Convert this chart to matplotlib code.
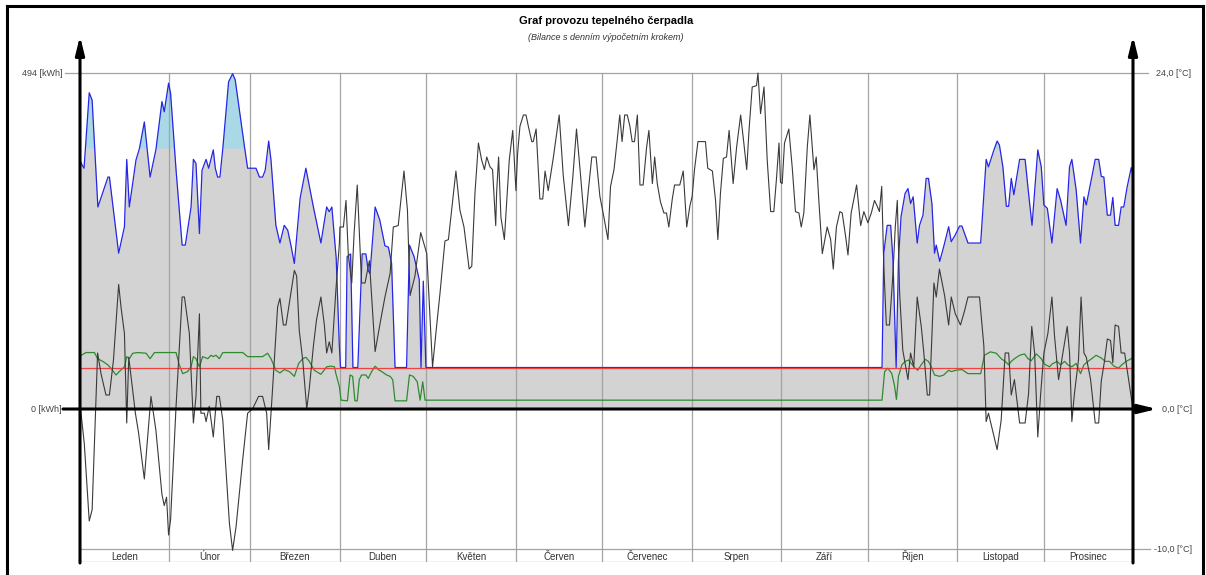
import numpy as np
import matplotlib.pyplot as plt
from matplotlib.lines import Line2D

plt.rcParams['font.family'] = ['Liberation Sans', 'DejaVu Sans']

# --- data (day of year, value) ---
months = ['Leden', 'Únor', 'Březen', 'Duben', 'Květen', 'Červen',
          'Červenec', 'Srpen', 'Září', 'Říjen', 'Listopad', 'Prosinec']
month_start = [0, 31, 59, 90, 120, 151, 181, 212, 243, 273, 304, 334, 365]

e_top = 494        # kWh at the top gridline
t_top = 24.0       # degC at the top gridline
t_low = -10.0
hp_cap_kwh = 383   # heat pump limit, above it = light blue
dhw_kwh = 61       # red line

# total heat demand (blue)
heat_day = [0, 0.7, 1.4, 3.2, 4.2, 6.2, 9.7, 10.2, 13.4, 15.4, 16.2, 17.1, 19.4, 20.6,
            22.3, 24.3, 26.3, 28.4, 29.2, 30.7, 31.4, 33.3, 35.4, 36.5, 38.5, 39.3,
            40.2, 41.4, 42.3, 43.7, 44.6, 46.2, 46.9, 47.7, 48.5, 49.5, 51.5, 52.9,
            53.8, 57.0, 58.1, 61.0, 62.2, 63.3, 64.2, 65.4, 66.2, 67.9, 69.3, 70.8,
            72.0, 73.1, 74.3, 76.3, 78.3, 80.9, 83.5, 85.5, 86.4, 87.3, 88.8, 89.9,
            90.3, 92.1, 92.6, 93.8, 94.6, 96.3, 97.8, 99.1, 99.9, 100.5, 102.3, 103.9,
            105.7, 106.9, 108.0, 109.2, 113.2, 114.2, 115.8, 117.6, 118.2, 119.0, 119.9,
            278.0, 278.6, 279.8, 281.0, 281.8, 282.9, 283.7, 284.6, 286.0, 287.0,
            287.9, 288.8, 290.2, 291.0, 292.2, 293.3, 294.1, 295.3, 296.2, 296.8,
            298.0, 299.4, 301.1, 302.0, 303.4, 304.9, 305.7, 307.8, 312.2, 314.1,
            314.9, 316.8, 317.9, 318.7, 319.9, 321.1, 321.9, 322.8, 323.7, 325.7,
            327.6, 328.8, 330.0, 332.0, 333.2, 334.1, 335.3, 336.9, 338.7, 339.9,
            341.8, 343.0, 343.8, 345.3, 346.8, 348.0, 348.8, 350.3, 351.9, 353.1,
            354.0, 354.9, 356.1, 357.2, 358.0, 358.8, 360.0, 360.9, 361.8, 363.0,
            364.4, 365.0]
heat_kwh = [366, 359, 354, 465, 454, 297, 341, 341, 229, 268, 367, 297, 366, 383,
            422, 341, 381, 452, 437, 479, 464, 351, 241, 241, 297, 367,
            361, 258, 351, 367, 354, 381, 354, 341, 341, 383, 481, 493,
            484, 386, 354, 354, 341, 341, 351, 394, 366, 270, 244, 270,
            263, 241, 214, 310, 354, 297, 244, 297, 290, 297, 222, 92,
            61, 61, 224, 228, 61, 61, 228, 228, 204, 199, 297, 278,
            240, 238, 214, 61, 61, 241, 224, 190, 61, 188, 61,
            61, 229, 270, 270, 219, 61, 219, 283, 317, 324,
            302, 312, 244, 270, 285, 339, 339, 302, 229, 241,
            217, 239, 268, 246, 256, 269, 269, 244, 244, 367,
            356, 381, 394, 388, 356, 298, 298, 339, 315, 367,
            367, 317, 270, 381, 356, 300, 295, 244, 324, 307,
            270, 356, 367, 322, 244, 312, 300, 332, 367, 367,
            342, 341, 285, 285, 311, 270, 270, 297, 297, 327,
            355, 345]

# electricity (green)
el_day = [0, 2.1, 5.0, 6.1, 7.9, 9.6, 10.7, 12.5, 13.6, 15.4, 16.2, 17.1, 18.3, 20.0,
          22.9, 24.3, 25.8, 33.3, 34.4, 35.6, 37.3, 38.5, 39.3, 40.2, 41.4, 42.5,
          44.3, 45.4, 46.2, 47.1, 48.3, 49.5, 56.4, 58.1, 63.3, 65.0, 66.2, 67.9,
          69.3, 70.8, 72.6, 74.3, 75.8, 77.2, 78.3, 79.5, 81.2, 83.5, 85.5, 87.0,
          88.2, 88.7, 89.9, 90.5, 92.7, 93.6, 94.5, 95.3, 96.1, 96.8, 97.6, 99.1,
          99.9, 101.1, 102.3, 103.4, 104.6, 106.3, 107.5, 108.4, 109.2, 113.2, 114.2,
          115.5, 116.9, 117.9, 118.8, 119.6, 120.4,
          278.0, 278.9, 280.0, 281.4, 282.3, 283.0, 283.7, 284.9, 286.0, 287.2,
          288.1, 289.5, 290.4, 291.6, 293.0, 294.1, 295.3, 296.2, 298.0, 299.4,
          301.1, 302.0, 303.7, 305.7, 307.8, 312.2, 313.5, 315.6, 317.6, 319.3,
          320.7, 321.9, 322.8, 323.9, 325.7, 327.4, 328.6, 329.7, 331.5, 333.2,
          334.3, 336.1, 336.9, 338.7, 339.9, 341.3, 342.4, 343.8, 345.3, 346.8,
          348.0, 349.4, 350.7, 352.2, 354.0, 355.4, 356.9, 358.4, 360.0, 361.1,
          362.6, 364.4, 365.0]
el_kwh = [78, 83, 83, 74, 70, 65, 60, 50, 55, 62, 77, 74, 82, 83,
          82, 74, 83, 83, 65, 52, 55, 62, 77, 74, 62, 77,
          74, 79, 77, 79, 74, 83, 83, 77, 77, 82, 74, 57,
          53, 58, 55, 48, 67, 74, 76, 70, 57, 51, 62, 63,
          62, 52, 33, 13, 12, 50, 48, 12, 12, 43, 50, 50,
          45, 55, 63, 58, 55, 50, 48, 43, 12, 12, 50,
          48, 40, 13, 40, 13, 13,
          13, 55, 60, 52, 35, 14, 48, 65, 70, 72,
          67, 60, 57, 65, 73, 70, 60, 50, 48, 50,
          57, 55, 57, 58, 52, 52, 79, 84, 82, 74,
          70, 65, 70, 74, 79, 81, 74, 71, 81, 74,
          66, 62, 66, 70, 65, 70, 65, 62, 67, 52,
          65, 70, 74, 79, 75, 70, 70, 63, 60, 65,
          70, 74, 77]

# outdoor temperature (black)
temp_day = [0.0, 0.3, 1.5, 3.2, 4.2, 5.0, 6.1, 7.3, 9.0, 10.2, 11.6, 13.4, 14.2, 15.4,
            16.2, 16.9, 17.7, 19.2, 20.3, 22.3, 23.1, 24.6, 26.3, 28.4, 29.2, 30.0,
            30.7, 31.4, 33.3, 35.4, 36.2, 37.9, 39.3, 40.2, 41.4, 41.9, 43.1, 43.7,
            44.8, 46.2, 47.4, 48.3, 49.5, 51.8, 52.9, 54.1, 56.4, 58.1, 59.8, 61.9,
            63.3, 64.7, 65.4, 66.8, 68.5, 69.3, 70.5, 71.4, 73.1, 74.3, 75.1, 76.0,
            77.2, 78.6, 79.5, 80.9, 82.0, 83.5, 84.7, 85.5, 86.4, 87.3, 88.7, 89.9,
            90.1, 91.3, 92.2, 93.0, 94.2, 95.0, 96.1, 97.6, 98.8, 100.3, 102.3, 104.0,
            105.7, 107.5, 108.6, 110.3, 112.3, 113.5, 114.4, 116.1, 118.1, 120.2,
            122.2, 123.6, 124.8, 126.5, 127.7, 128.8, 130.3, 131.7, 133.1, 134.9,
            135.8, 136.9, 138.1, 139.2, 140.2, 141.0, 142.1, 143.0, 144.1, 144.4,
            145.1, 145.9, 147.1, 148.8, 150.0, 151.1, 151.7, 152.5, 153.7, 154.6,
            155.4, 156.6, 157.1, 158.1, 159.4, 160.4, 161.2, 162.3, 164.1, 166.1,
            167.5, 169.3, 170.8, 172.1, 173.5, 175.0, 176.2, 177.4, 178.9, 180.2,
            181.6, 183.0, 183.9, 185.1, 186.2, 187.1, 187.9, 188.8, 189.7, 190.6,
            191.4, 192.2, 193.2, 194.1, 195.2, 196.4, 197.2, 198.4, 199.2, 200.1,
            201.2, 202.4, 203.3, 204.1, 205.3, 206.1, 207.9, 209.1, 210.3, 211.4,
            212.2, 213.0, 214.2, 216.8, 217.6, 219.2, 220.3, 221.1, 222.0, 223.0,
            224.1, 225.0, 225.7, 226.4, 227.6, 229.0, 230.1, 231.1, 231.9, 233.0,
            234.5, 235.0, 235.9, 237.1, 237.6, 238.2, 239.4, 240.5, 241.4, 242.3,
            242.8, 243.4, 244.2, 245.7, 246.9, 248.0, 249.2, 250.0, 250.9, 252.1,
            253.0, 254.4, 255.2, 256.1, 257.3, 259.0, 260.2, 261.1, 262.2, 263.4,
            264.2, 265.4, 266.2, 267.3, 269.2, 270.6, 271.7, 273.1, 274.3, 275.4,
            276.3, 277.1, 277.9, 278.6, 279.5, 280.6, 281.8, 282.6, 283.3, 284.1,
            285.2, 287.0, 287.9, 289.0, 290.2, 291.6, 292.5, 293.7, 294.5, 296.0,
            296.8, 297.9, 299.7, 301.1, 302.0, 303.4, 305.2, 306.6, 307.8, 311.8,
            313.3, 314.1, 314.9, 317.9, 319.3, 320.7, 321.9, 322.8, 323.9, 325.7,
            327.6, 328.8, 329.9, 330.9, 332.0, 333.0, 334.1, 335.5, 336.9, 337.8,
            339.2, 340.7, 342.2, 343.0, 343.8, 344.7, 346.1, 347.0, 348.0, 348.8,
            350.3, 351.9, 353.1, 354.0, 355.1, 356.1, 357.2, 358.0, 358.8, 360.0,
            360.9, 362.1, 363.2, 365.0]
temp_c = [0.0, -0.2, -2.5, -8.0, -7.2, -2.5, 4.0, 2.5, 1.0, 1.0, 3.5, 8.9, 7.3, 5.4,
          -1.0, 3.7, 2.3, -0.3, -1.7, -5.0, -2.9, 0.9, -1.5, -6.1, -6.9, -6.3,
          -9.0, -7.9, 0.2, 8.0, 8.0, 5.4, -1.0, 0.9, 6.8, -0.3, -0.3, -0.9,
          0.2, -2.0, 0.9, 0.9, -0.8, -8.2, -10.1, -8.4, -3.6, -0.3, 0.0, 0.9,
          0.9, -0.3, -2.9, 1.6, 7.3, 7.9, 6.0, 6.0, 8.3, 9.9, 9.5, 5.6,
          3.5, 0.0, 1.5, 4.5, 6.4, 8.0, 6.0, 4.0, 4.8, 4.0, 8.5, 11.8,
          13.0, 13.0, 14.9, 11.0, 9.0, 12.5, 16.0, 9.0, 9.0, 10.6, 4.1, 6.1,
          8.0, 9.7, 13.0, 13.1, 17.0, 14.2, 8.1, 9.5, 12.6, 11.1,
          3.0, 5.9, 8.3, 12.0, 12.1, 14.2, 17.0, 14.2, 13.0, 10.0,
          10.2, 15.4, 19.0, 17.8, 17.1, 18.0, 17.3, 17.1, 13.1, 15.4,
          18.0, 13.7, 12.1, 17.8, 19.9, 15.6, 18.3, 20.2, 21.0, 21.0,
          20.2, 19.1, 19.1, 20.0, 15.0, 15.0, 17.0, 15.6, 18.0, 21.0,
          16.7, 13.1, 16.5, 20.0, 16.7, 13.0, 15.6, 18.0, 18.0, 15.2,
          13.7, 12.1, 15.9, 17.1, 19.2, 21.0, 19.1, 21.0, 21.0, 20.2,
          19.1, 19.1, 21.0, 16.0, 16.0, 18.7, 19.9, 16.1, 18.0, 16.1,
          14.8, 14.0, 14.0, 13.0, 15.0, 16.0, 16.0, 17.0, 13.0, 14.5,
          15.2, 17.1, 19.1, 19.1, 17.2, 17.0, 14.9, 12.1, 15.4, 17.9,
          18.0, 19.9, 18.0, 16.1, 18.7, 21.0, 19.0, 17.1, 19.9, 23.0,
          23.1, 24.0, 21.1, 23.0, 20.6, 17.8, 14.1, 14.1, 16.4, 19.0,
          16.2, 16.1, 19.0, 20.0, 17.2, 14.1, 14.0, 13.0, 14.0, 18.7,
          21.0, 17.1, 18.0, 14.9, 11.1, 13.0, 12.1, 10.0, 13.0, 14.1,
          14.0, 12.3, 11.0, 14.0, 16.0, 13.1, 14.1, 13.3, 14.0, 14.9,
          14.5, 14.1, 15.9, 10.3, 6.0, 6.0, 9.7, 13.0, 14.9, 8.3,
          4.2, 2.1, 4.0, 3.0, 8.0, 5.9, 4.0, 1.0, 1.0, 9.0,
          8.0, 10.0, 8.1, 6.0, 8.0, 6.8, 6.0, 7.0, 8.0, 8.0,
          4.5, -0.9, -0.3, -2.9, -0.8, 4.0, 4.0, 1.0, 2.1, -1.0,
          -1.0, 1.1, 5.9, 4.0, -2.0, 1.1, 4.0, 5.4, 8.0, 5.2,
          2.1, 4.0, 5.9, 4.0, -0.9, 1.1, 3.5, 8.0, 4.0, 3.7,
          2.1, -1.0, -1.0, 2.0, 3.4, 5.0, 4.9, 3.3, 6.0, 5.9,
          4.0, 4.0, 2.5, 0.0]

# --- layout (pixels of the 1206x575 picture) ---
W, H = 1206, 575
x_left, x_right = 80, 1133
y_top, y_bot = 30, 562
y_zero = 409
px_per_deg = 14.0
px_per_day = (x_right - x_left) / 365.0


def dx(px):
    return (px - x_left) / px_per_day


def ty(py):
    return (y_zero - py) / px_per_deg


def fx(px):
    return px / W


def fy(py):
    return 1 - py / H


fig = plt.figure(figsize=(W / 100, H / 100), dpi=100)
ax = fig.add_axes([fx(x_left), fy(y_bot), (x_right - x_left) / W, (y_bot - y_top) / H])
ax.set_xlim(0, 365)
ax.set_ylim(ty(y_bot), ty(y_top))
ax.axis('off')

e2t = t_top / e_top
hd = np.array(heat_day)
heat = np.array(heat_kwh) * e2t
cap = hp_cap_kwh * e2t

# fills
ax.fill_between(hd, 0, heat, color='#d3d3d3', lw=0, zorder=1)
ax.fill_between(hd, cap, heat, where=heat > cap, interpolate=True,
                color='#a9d8e6', lw=0, zorder=1.5)

# month grid and bottom band
grid_c = '#a3a3a3'
for d in month_start[1:-1]:
    ax.plot([d, d], [ty(y_bot), t_top], color=grid_c, lw=0.9, zorder=2)
ax.plot([0, 365], [t_low, t_low], color=grid_c, lw=0.9, zorder=2)
ax.plot([0, 365], [ty(y_bot), ty(y_bot)], color=grid_c, lw=0.9, zorder=2)
for a, b, name in zip(month_start[:-1], month_start[1:], months):
    ax.text((a + b) / 2, ty(559.5), name, ha='center', va='baseline', fontsize=7,
            color='#333333')

ax.plot([dx(65), dx(1148)], [t_top, t_top], color=grid_c, lw=0.9, zorder=2, clip_on=False)
ax.plot([365, dx(1150)], [t_low, t_low], color=grid_c, lw=0.9, zorder=2, clip_on=False)

# series
ax.plot(el_day, np.array(el_kwh) * e2t, color='#2e8b2e', lw=0.9, zorder=3)
ax.plot(hd, heat, color='#2626e6', lw=0.9, zorder=3.5)
ax.plot([0, 365], [dhw_kwh * e2t] * 2, color='#f04040', lw=0.9, zorder=4)
ax.plot(temp_day, temp_c, color='#3a3a3a', lw=0.8, zorder=4.5)

# axes with arrows
arrow = dict(arrowstyle='-|>,head_length=0.9,head_width=0.22', lw=2.2, color='black',
             shrinkA=0, shrinkB=0, mutation_scale=12)
for d in (0, 365):
    ax.annotate('', xy=(d, ty(36)), xytext=(d, ty(563)), arrowprops=arrow,
                annotation_clip=False, zorder=6)
ax.annotate('', xy=(dx(1157), 0), xytext=(dx(63), 0), arrowprops=arrow,
            annotation_clip=False, zorder=6)

# axis labels
lab = dict(fontsize=6.5, color='#444444', va='center')
fig.text(fx(63), fy(73), '494 [kWh]', ha='right', **lab)
fig.text(fx(62), fy(409), '0 [kWh]', ha='right', **lab)
fig.text(fx(1156), fy(73), '24,0 [°C]', ha='left', **lab)
fig.text(fx(1162), fy(409), '0,0 [°C]', ha='left', **lab)
fig.text(fx(1154), fy(549), '-10,0 [°C]', ha='left', **lab)

# titles
fig.text(fx(606), fy(21), 'Graf provozu tepelného čerpadla', ha='center', va='center',
         fontsize=8, fontweight='bold')
fig.text(fx(606), fy(37), '(Bilance s denním výpočetním krokem)', ha='center', va='center',
         fontsize=6.5, fontstyle='italic', color='#333333')

# outer frame
for xs, ys in (([7, 7], [6, H]), ([7, 1203], [6, 6]), ([1203, 1203], [6, H])):
    fig.add_artist(Line2D([fx(v) for v in xs], [fy(v) for v in ys],
                          transform=fig.transFigure, color='black', lw=2.2))

fig.savefig('out.png', dpi=100)
